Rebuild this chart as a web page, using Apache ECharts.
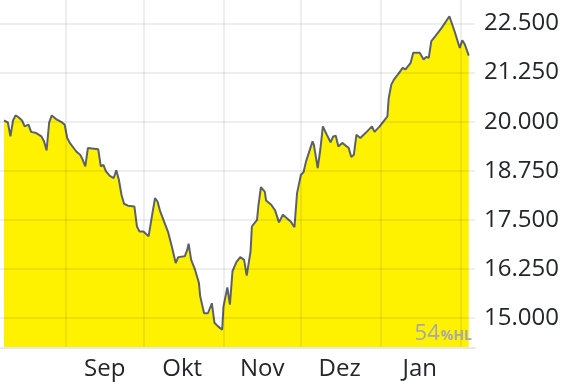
<!DOCTYPE html>
<html><head><meta charset="utf-8">
<script src="https://cdn.jsdelivr.net/npm/echarts@6/dist/echarts.min.js"></script>
<style>html,body{margin:0;padding:0;background:#fff}#c{width:570px;height:382px}</style>
</head><body><div id="c"></div>
<script>
const dates = [
"2023-08-08","2023-08-09 12:00","2023-08-10 12:00","2023-08-11 12:00","2023-08-12 12:00","2023-08-13 12:00","2023-08-15","2023-08-16","2023-08-17 12:00","2023-08-18 12:00",
"2023-08-20 12:00","2023-08-22 12:00","2023-08-23 12:00","2023-08-24 12:00","2023-08-25 12:00","2023-08-26 12:00","2023-08-28 12:00","2023-08-30 12:00","2023-08-31 12:00","2023-09-01 12:00",
"2023-09-02 12:00","2023-09-05","2023-09-06 12:00","2023-09-07 12:00","2023-09-08 12:00","2023-09-09 12:00","2023-09-13 12:00","2023-09-14 12:00","2023-09-15 12:00","2023-09-16 12:00",
"2023-09-18","2023-09-19 12:00","2023-09-20 12:00","2023-09-21 12:00","2023-09-22 12:00","2023-09-23 12:00","2023-09-25","2023-09-27 12:00","2023-09-28 12:00","2023-09-29 12:00",
"2023-10-01","2023-10-03","2023-10-04 12:00","2023-10-05 12:00","2023-10-06 12:00","2023-10-07 12:00","2023-10-10 12:00","2023-10-12","2023-10-13 12:00","2023-10-14 12:00",
"2023-10-17","2023-10-18","2023-10-18 12:00","2023-10-19 12:00","2023-10-21","2023-10-22 12:00","2023-10-23","2023-10-24 12:00","2023-10-26","2023-10-27 12:00",
"2023-10-28 12:00","2023-10-30","2023-10-31 12:00","2023-11-01","2023-11-02 12:00","2023-11-03 12:00","2023-11-04 12:00","2023-11-06","2023-11-07 12:00","2023-11-09",
"2023-11-10","2023-11-11 12:00","2023-11-12","2023-11-14","2023-11-14 12:00","2023-11-15 12:00","2023-11-17","2023-11-17 12:00","2023-11-19 12:00","2023-11-21",
"2023-11-22 12:00","2023-11-24","2023-11-27","2023-11-28 12:00","2023-11-29 12:00","2023-12-01","2023-12-02","2023-12-03","2023-12-05 12:00","2023-12-06",
"2023-12-07 12:00","2023-12-08 12:00","2023-12-09 12:00","2023-12-11","2023-12-12 12:00","2023-12-13 12:00","2023-12-14 12:00","2023-12-15 12:00","2023-12-17","2023-12-19 12:00",
"2023-12-20 12:00","2023-12-21 12:00","2023-12-22 12:00","2023-12-24","2023-12-26","2023-12-28 12:00","2023-12-29 12:00","2023-12-31 12:00","2024-01-02","2024-01-03 12:00",
"2024-01-04","2024-01-05","2024-01-06","2024-01-06 12:00","2024-01-07 12:00","2024-01-09 12:00","2024-01-10 12:00","2024-01-12 12:00","2024-01-13 12:00","2024-01-16",
"2024-01-17 12:00","2024-01-18 12:00","2024-01-19 12:00","2024-01-20 12:00","2024-01-22","2024-01-24 12:00","2024-01-27 12:00","2024-01-29 12:00","2024-01-31 12:00","2024-02-01 12:00",
"2024-02-02 12:00","2024-02-04"
];
const values = [
20030,19980,19625,20030,20160,20120,20030,19880,19925,19740,
19710,19625,19500,19270,19980,20160,20050,19980,19925,19585,
19460,19240,19160,19030,18860,19330,19300,18860,18900,18735,
18620,18565,18760,18520,18140,17910,17860,17840,17330,17200,
17200,17080,17670,18055,17960,17715,17200,16820,16400,16550,
16570,16740,16890,16480,16230,15890,15550,15120,15120,15375,
14880,14780,14700,15290,15780,15340,16190,16420,16550,16480,
16080,16700,17330,17500,17840,18330,18220,17995,17885,17740,
17435,17630,17460,17310,18180,18650,18710,18990,19500,19415,
18820,19285,19880,19670,19475,19625,19640,19370,19460,19330,
19100,19160,19670,19585,19710,19880,19740,19880,20010,20135,
20600,20945,21070,21030,21200,21375,21330,21500,21755,21755,
21585,21650,21625,22050,22175,22390,22685,22305,21880,22075,
21965,21685
];
const yTicks = [15000,16250,17500,18750,20000,21250,22500];
const monthStarts = ["2023-09-01","2023-10-01","2023-11-01","2023-12-01","2024-01-01","2024-02-01"];
const monthLabelDates = ["2023-09-16","2023-10-16","2023-11-16","2023-12-16","2024-01-16"];
const monthNames = ["Jan","Feb","Mär","Apr","Mai","Jun","Jul","Aug","Sep","Okt","Nov","Dez"];

function fmtDE(v){ const t=Math.floor(v/1000), r=v%1000; return t+'.'+String(r).padStart(3,'0'); }
function ts(s){ return new Date(s.replace(' ','T')+(s.length>10?':00':'T00:00:00')).getTime(); }
const xMin = ts("2023-08-06 11:00"), xMax = ts("2024-02-06 10:00");

const chart = echarts.init(document.getElementById('c'), null, {renderer:'canvas'});
chart.setOption({
  animation:false,
  textStyle:{fontFamily:'Open Sans'},
  grid:{left:0, right:95, top:0, bottom:34, containLabel:false},
  xAxis:[{
    type:'value', min:xMin, max:xMax, z:10,
    axisLine:{show:true, lineStyle:{color:'#e8e8e8', width:2}},
    axisTick:{show:false, customValues: monthStarts.map(ts)},
    splitLine:{show:true, lineStyle:{color:'rgba(0,0,0,0.065)', width:2}},
    axisLabel:{show:false}
  },{
    type:'value', min:xMin, max:xMax, position:'bottom',
    axisLine:{show:false}, axisTick:{show:false}, splitLine:{show:false},
    axisLabel:{show:true, customValues: monthLabelDates.map(ts), margin:9, fontSize:24, color:'#23272b', fontFamily:'Open Sans',
      formatter:function(v){ return monthNames[new Date(v).getMonth()]; }}
  }],
  yAxis:{
    type:'value', position:'right', min:14235, max:23100, z:10,
    axisLine:{show:false},
    axisTick:{show:false, customValues:yTicks},
    splitLine:{show:true, lineStyle:{color:'rgba(0,0,0,0.065)', width:2}},
    axisLabel:{customValues:yTicks, margin:9, fontSize:24, color:'#23272b', fontFamily:'Open Sans', formatter:fmtDE}
  },
  series:[{
    type:'line', xAxisIndex:0, data: dates.map((d,i)=>[ts(d), values[i]]),
    showSymbol:false, z:2,
    lineStyle:{color:'#5c6169', width:2},
    areaStyle:{color:'#fff200', opacity:1, origin:'start'}
  }],
  graphic:[{
    type:'text', right:98, bottom:37, z:20,
    style:{text:'{a|54}{b|%HL}', rich:{
      a:{fontSize:22, fill:'#a8a8a8', fontFamily:'Open Sans'},
      b:{fontSize:14, fontWeight:'bold', fill:'#a8a8a8', fontFamily:'Open Sans', padding:[4,0,0,1]}
    }}
  }]
});
</script></body></html>
